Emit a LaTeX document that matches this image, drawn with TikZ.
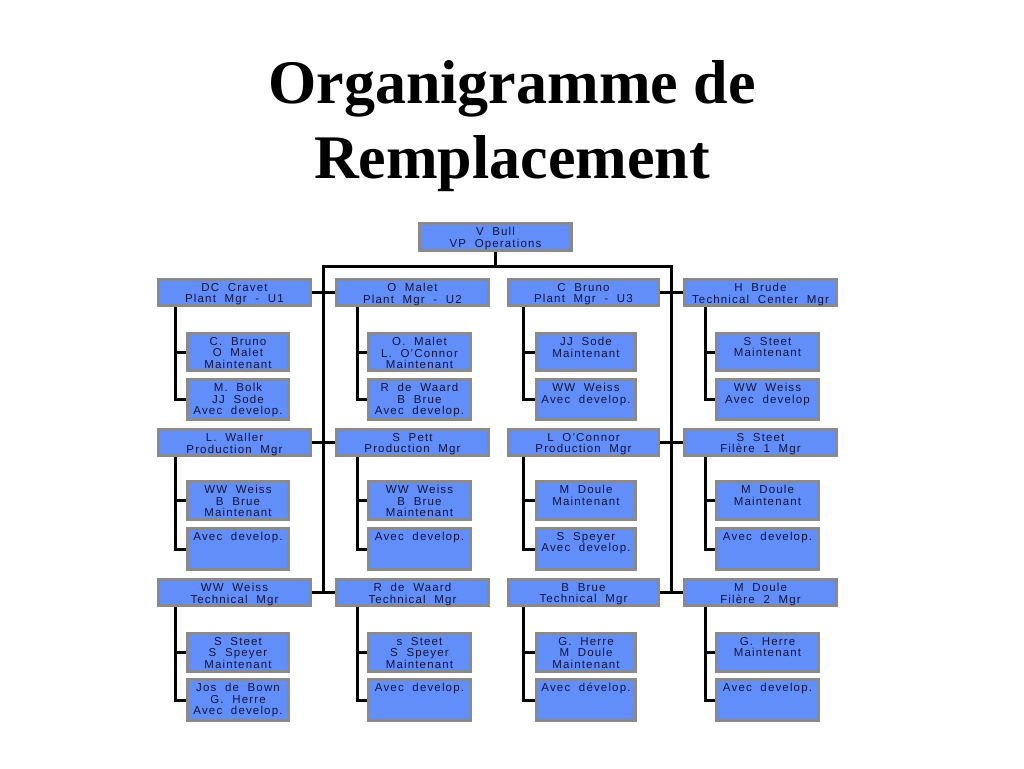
\documentclass[tikz,border=0pt]{standalone}
\usepackage{fontspec}
\setmainfont{Liberation Sans}
\newfontfamily\boxfont{Liberation Sans}[LetterSpace=10,WordSpace=2]
\newfontfamily\titlefont{Liberation Serif}
\definecolor{boxblue}{RGB}{98,142,250}
\definecolor{boxgray}{RGB}{138,138,138}
\definecolor{boxtext}{RGB}{20,20,60}
\tikzset{
  orgbox/.style={draw=boxgray, fill=boxblue, line width=3pt, inner sep=0pt},
  orgtext/.style={inner sep=0pt, align=center, text=boxtext, anchor=north,
    font=\boxfont\fontsize{11.5}{11.5}\selectfont},
  conn/.style={line width=3pt, draw=black},
  titletext/.style={anchor=base, inner sep=0pt, font=\titlefont\bfseries\fontsize{62}{62}\selectfont}
}
\newcommand\orgbx[6]{%
  \pgfmathsetmacro\bxw{#4-#2-3}%
  \pgfmathsetmacro\bxh{#5-#3-3}%
  \node[orgbox, minimum width=\bxw pt, minimum height=\bxh pt] (#1) at ({(#2+#4)/2},{(#3+#5)/2}) {};
  \node[orgtext] (#1t) at ([yshift=-5pt]#1.north) {#6};
}
\begin{document}
\begin{tikzpicture}[x=1pt,y=-1pt]
\fill[white] (0,0) rectangle (1024,768);
\useasboundingbox (0,0) rectangle (1024,768);

\node[titletext] (title1) at (512,103) {Organigramme de};
\node[titletext] (title2) at (512,178) {Remplacement};

\orgbx{vp}{418}{222}{573}{252}{V Bull\\VP Operations}

% column 1
\orgbx{m11}{157}{278}{312}{307}{DC Cravet\\Plant Mgr - U1}
\orgbx{s11a}{186}{332}{290}{372}{C. Bruno\\O Malet\\Maintenant}
\orgbx{s11b}{186}{378}{290}{421}{M. Bolk\\JJ Sode\\Avec develop.}
\orgbx{m12}{157}{428}{312}{457}{L. Waller\\Production Mgr}
\orgbx{s12a}{186}{480}{290}{521}{WW Weiss\\B Brue\\Maintenant}
\orgbx{s12b}{186}{527}{290}{571}{Avec develop.}
\orgbx{m13}{157}{578}{312}{607}{WW Weiss\\Technical Mgr}
\orgbx{s13a}{186}{632}{290}{673}{S Steet\\S Speyer\\Maintenant}
\orgbx{s13b}{186}{678}{290}{722}{Jos de Bown\\G. Herre\\Avec develop.}

% column 2
\orgbx{m21}{335}{278}{490}{307}{O Malet\\Plant Mgr - U2}
\orgbx{s21a}{367}{332}{472}{372}{O. Malet\\L. O’Connor\\Maintenant}
\orgbx{s21b}{367}{378}{472}{421}{R de Waard\\B Brue\\Avec develop.}
\orgbx{m22}{335}{428}{490}{457}{S Pett\\Production Mgr}
\orgbx{s22a}{367}{480}{472}{521}{WW Weiss\\B Brue\\Maintenant}
\orgbx{s22b}{367}{527}{472}{571}{Avec develop.}
\orgbx{m23}{335}{578}{490}{607}{R de Waard\\Technical Mgr}
\orgbx{s23a}{367}{632}{472}{673}{s Steet\\S Speyer\\Maintenant}
\orgbx{s23b}{367}{678}{472}{722}{Avec develop.}

% column 3
\orgbx{m31}{507}{278}{660}{307}{C Bruno\\Plant Mgr - U3}
\orgbx{s31a}{535}{332}{637}{372}{JJ Sode\\Maintenant}
\orgbx{s31b}{535}{378}{637}{421}{WW Weiss\\Avec develop.}
\orgbx{m32}{507}{428}{660}{457}{L O’Connor\\Production Mgr}
\orgbx{s32a}{535}{480}{637}{521}{M Doule\\Maintenant}
\orgbx{s32b}{535}{527}{637}{571}{S Speyer\\Avec develop.}
\orgbx{m33}{507}{578}{660}{607}{B Brue\\Technical Mgr}
\orgbx{s33a}{535}{632}{637}{673}{G. Herre\\M Doule\\Maintenant}
\orgbx{s33b}{535}{678}{637}{722}{Avec dévelop.}

% column 4
\orgbx{m41}{683}{278}{838}{307}{H Brude\\Technical Center Mgr}
\orgbx{s41a}{715}{332}{820}{372}{S Steet\\Maintenant}
\orgbx{s41b}{715}{378}{820}{421}{WW Weiss\\Avec develop}
\orgbx{m42}{683}{428}{838}{457}{S Steet\\Filère 1 Mgr}
\orgbx{s42a}{715}{480}{820}{521}{M Doule\\Maintenant}
\orgbx{s42b}{715}{527}{820}{571}{Avec develop.}
\orgbx{m43}{683}{578}{838}{607}{M Doule\\Filère 2 Mgr}
\orgbx{s43a}{715}{632}{820}{673}{G. Herre\\Maintenant}
\orgbx{s43b}{715}{678}{820}{722}{Avec develop.}

% bus coordinates
\coordinate (busL) at (323,266);
\coordinate (busR) at (671,266);
\coordinate (busLb) at (323,592.5);
\coordinate (busRb) at (671,592.5);
\coordinate (v1) at (175,0);
\coordinate (v2) at (357,0);
\coordinate (v3) at (523,0);
\coordinate (v4) at (705,0);

\draw[conn] (vp.south) -- (vp.south |- busL);
\draw[conn] (busLb) -- (busL) -- (busR) -- (busRb);

\foreach \r in {1,2,3} {
  \draw[conn] (m1\r.east) -- (m1\r.east -| busL);
  \draw[conn] (m2\r.west) -- (m2\r.west -| busL);
  \draw[conn] (m3\r.east) -- (m3\r.east -| busR);
  \draw[conn] (m4\r.west) -- (m4\r.west -| busR);
  \foreach \c in {1,2,3,4} {
    \draw[conn] (m\c\r.south -| v\c) |- (s\c\r b.west);
    \draw[conn] (s\c\r a.west -| v\c) -- (s\c\r a.west);
  }
}
\end{tikzpicture}
\end{document}
